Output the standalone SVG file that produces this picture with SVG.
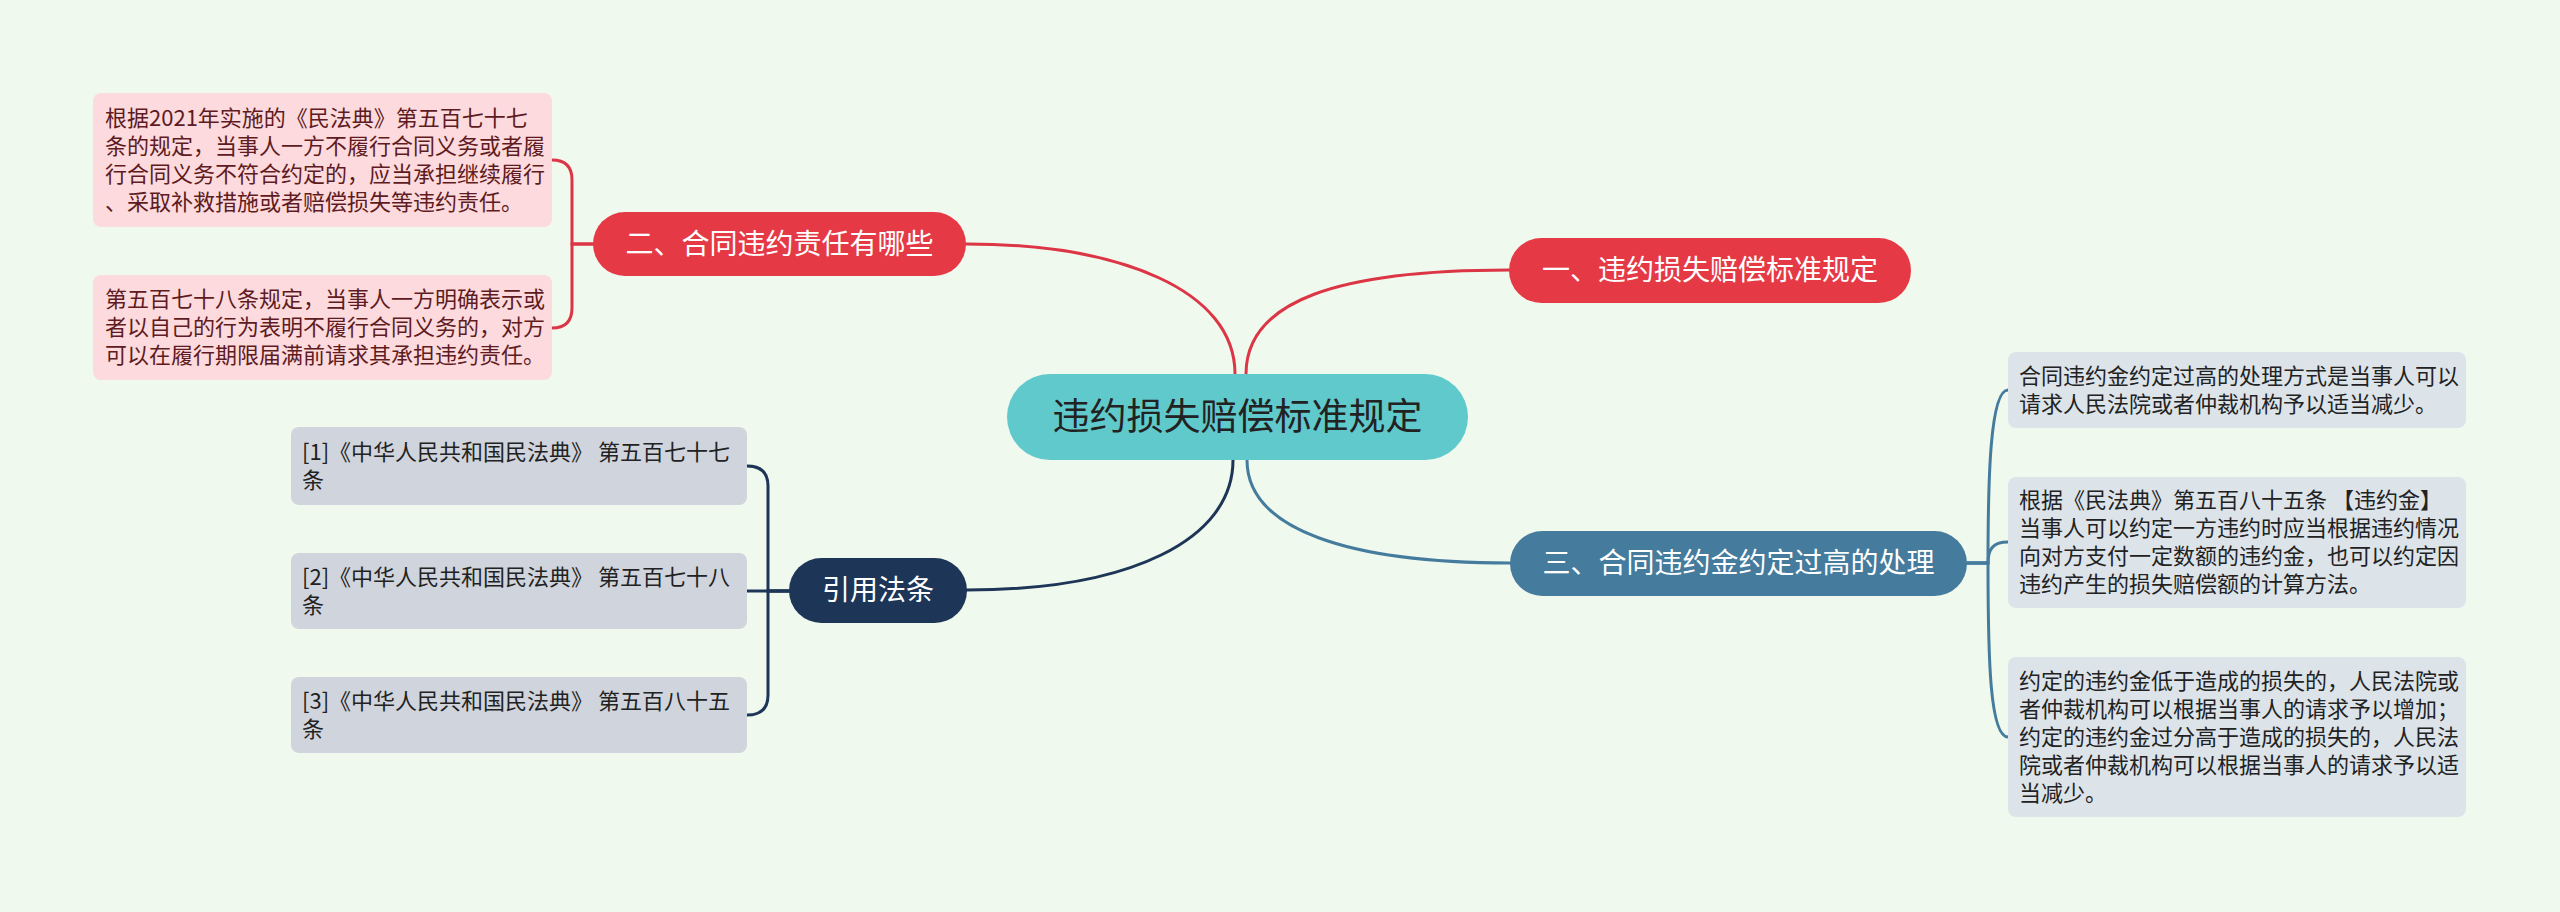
<svg xmlns="http://www.w3.org/2000/svg" width="2560" height="912" viewBox="0 0 2560 912">
<style>
text{font-family:"Noto Sans CJK SC","Noto Sans",sans-serif;}
.bg{fill:#f0f9ee;}
.c{fill:none;stroke-width:3;stroke-linecap:round;}
.red{stroke:#dc3545;}
.navy{stroke:#1d3557;}
.blue{stroke:#457b9d;}
.nt{font-size:28px;fill:#ffffff;text-anchor:middle;}
.lt{font-size:22px;fill:#222222;}
.pt{font-size:22px;fill:#5e1b22;}
.pink{fill:#fcdadd;}
.grey{fill:#d0d5dd;}
.lb{fill:#dce4ea;}
</style>
<rect class="bg" x="0" y="0" width="2560" height="912"/>
<g id="connectors">
<path class="c red" d="M1235 374 C1235 290 1120 244 966 244"/>
<path class="c red" d="M1246 374 C1246 300 1340 270 1509 270"/>
<path class="c navy" d="M1233 460 C1233 540 1130 590 967 590"/>
<path class="c blue" d="M1247 460 C1247 530 1350 563 1510 563"/>
<path class="c red" d="M593 244 H572 V180 Q572 160 552 160"/>
<path class="c red" d="M593 244 H572 V308 Q572 328 552 328"/>
<path class="c navy" d="M789 591 H768 V486 Q768 466 747 466"/>
<path class="c navy" d="M789 591 H747"/>
<path class="c navy" d="M789 591 H768 V695 Q768 715 747 715"/>
<path class="c blue" d="M1967 563 H1988 C1988 480 1990 390 2008 390"/>
<path class="c blue" d="M1967 563 H1988 C1988 548 1994 542 2008 542"/>
<path class="c blue" d="M1967 563 H1988 C1988 660 1990 737 2008 737"/>
</g>
<g id="center">
<rect x="1007" y="374" width="461" height="86" rx="43" fill="#60c9cb"/>
<text x="1237.5" y="430" font-size="37" fill="#222222" text-anchor="middle">违约损失赔偿标准规定</text>
</g>
<g id="n1">
<rect x="1509" y="238" width="402" height="65" rx="32.5" fill="#e63946"/>
<text class="nt" x="1710" y="280">一、违约损失赔偿标准规定</text>
</g>
<g id="n2">
<rect x="593" y="212" width="373" height="64" rx="32" fill="#e63946"/>
<text class="nt" x="779.5" y="254">二、合同违约责任有哪些</text>
</g>
<g id="n3">
<rect x="1510" y="531" width="457" height="65" rx="32.5" fill="#457b9d"/>
<text class="nt" x="1738.5" y="573">三、合同违约金约定过高的处理</text>
</g>
<g id="n4">
<rect x="789" y="558" width="178" height="65" rx="32.5" fill="#1d3557"/>
<text class="nt" x="878" y="600">引用法条</text>
</g>
<g id="p1">
<rect class="pink" x="93" y="93" width="459" height="134" rx="8"/>
<text class="pt" x="105" y="126">根据2021年实施的《民法典》第五百七十七</text>
<text class="pt" x="105" y="154">条的规定，当事人一方不履行合同义务或者履</text>
<text class="pt" x="105" y="182">行合同义务不符合约定的，应当承担继续履行</text>
<text class="pt" x="105" y="210">、采取补救措施或者赔偿损失等违约责任。</text>
</g>
<g id="p2">
<rect class="pink" x="93" y="275" width="459" height="105" rx="8"/>
<text class="pt" x="105" y="307">第五百七十八条规定，当事人一方明确表示或</text>
<text class="pt" x="105" y="335">者以自己的行为表明不履行合同义务的，对方</text>
<text class="pt" x="105" y="363">可以在履行期限届满前请求其承担违约责任。</text>
</g>
<g id="r1">
<rect class="grey" x="291" y="427" width="456" height="78" rx="8"/>
<text class="lt" x="302" y="460">[1]《中华人民共和国民法典》 第五百七十七</text>
<text class="lt" x="302" y="488">条</text>
</g>
<g id="r2">
<rect class="grey" x="291" y="553" width="456" height="76" rx="8"/>
<text class="lt" x="302" y="585">[2]《中华人民共和国民法典》 第五百七十八</text>
<text class="lt" x="302" y="613">条</text>
</g>
<g id="r3">
<rect class="grey" x="291" y="677" width="456" height="76" rx="8"/>
<text class="lt" x="302" y="709">[3]《中华人民共和国民法典》 第五百八十五</text>
<text class="lt" x="302" y="737">条</text>
</g>
<g id="b1">
<rect class="lb" x="2008" y="352" width="458" height="76" rx="8"/>
<text class="lt" x="2019" y="384">合同违约金约定过高的处理方式是当事人可以</text>
<text class="lt" x="2019" y="412">请求人民法院或者仲裁机构予以适当减少。</text>
</g>
<g id="b2">
<rect class="lb" x="2008" y="477" width="458" height="131" rx="8"/>
<text class="lt" x="2019" y="508">根据《民法典》第五百八十五条 【违约金】</text>
<text class="lt" x="2019" y="536">当事人可以约定一方违约时应当根据违约情况</text>
<text class="lt" x="2019" y="564">向对方支付一定数额的违约金，也可以约定因</text>
<text class="lt" x="2019" y="592">违约产生的损失赔偿额的计算方法。</text>
</g>
<g id="b3">
<rect class="lb" x="2008" y="657" width="458" height="160" rx="8"/>
<text class="lt" x="2019" y="689">约定的违约金低于造成的损失的，人民法院或</text>
<text class="lt" x="2019" y="717">者仲裁机构可以根据当事人的请求予以增加；</text>
<text class="lt" x="2019" y="745">约定的违约金过分高于造成的损失的，人民法</text>
<text class="lt" x="2019" y="773">院或者仲裁机构可以根据当事人的请求予以适</text>
<text class="lt" x="2019" y="801">当减少。</text>
</g>
</svg>
